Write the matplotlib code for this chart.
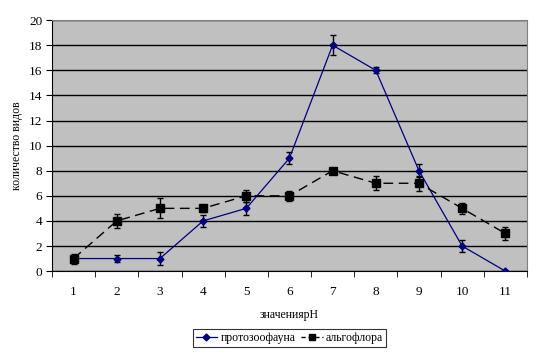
import numpy as np
import matplotlib.pyplot as plt
from matplotlib.lines import Line2D

ph = [1, 2, 3, 4, 5, 6, 7, 8, 9, 10, 11]
protozoa = [1, 1, 1, 4, 5, 9, 18, 16, 8, 2, 0]
protozoa_err = [0.3, 0.3, 0.5, 0.5, 0.5, 0.5, 0.8, 0.25, 0.5, 0.45, 0]
algae = [1, 4, 5, 5, 6, 6, 8, 7, 7, 5, 3]
algae_err = [0.4, 0.55, 0.8, 0.3, 0.5, 0.4, 0.2, 0.55, 0.6, 0.45, 0.5]

plt.rcParams['font.family'] = ['Liberation Serif', 'DejaVu Serif']

fig = plt.figure(figsize=(5.36, 3.53), dpi=100)
ax = fig.add_axes([0.097, 0.232, 0.886, 0.711])
ax.set_facecolor('#C0C0C0')

ax.errorbar(ph, protozoa, yerr=protozoa_err, color='#000080', lw=0.9,
            marker='D', ms=3.5, ecolor='black', elinewidth=1, capsize=2.5,
            zorder=3)
ax.errorbar(ph, algae, yerr=algae_err, color='black', lw=1, ls=(0, (7, 4)),
            marker='s', ms=5.5, ecolor='black', elinewidth=1, capsize=2.5,
            zorder=3)

ax.set_xlim(0.5, 11.5)
ax.set_ylim(0, 20)
ax.set_yticks(np.arange(0, 21, 2))
ax.set_xticks(ph)
ax.set_xticks(np.arange(0.5, 12, 1), minor=True)
ax.tick_params(axis='x', which='major', length=0, pad=11, labelsize=9.5)
ax.tick_params(axis='x', which='minor', length=4, direction='out')
ax.tick_params(axis='y', length=4, direction='out', labelsize=9.5, pad=3)
ax.grid(axis='y', color='black', lw=1, zorder=1)
ax.set_axisbelow(True)

for s in ['top', 'right']:
    ax.spines[s].set_color('#808080')
ax.spines['left'].set_color('black')
ax.spines['bottom'].set_color('black')

ax.set_xlabel('значениярН', fontsize=8.5, labelpad=8)
ax.set_ylabel('количество видов', fontsize=8.5, labelpad=4)

handles = [
    Line2D([], [], color='#000080', lw=0.9, marker='D', ms=3.5),
    Line2D([], [], color='black', lw=1, ls=(0, (3, 2)), marker='s', ms=5),
]
leg = ax.legend(handles, ['протозоофауна', 'альгофлора'], loc='center',
                bbox_to_anchor=(0.5, -0.268), ncol=2, fontsize=8.5,
                frameon=True, fancybox=False, edgecolor='black',
                handlelength=1.8, handletextpad=0.3, columnspacing=0.5,
                borderpad=0.25, borderaxespad=0)
leg.get_frame().set_linewidth(0.8)

fig.savefig('out.png', dpi=100)
